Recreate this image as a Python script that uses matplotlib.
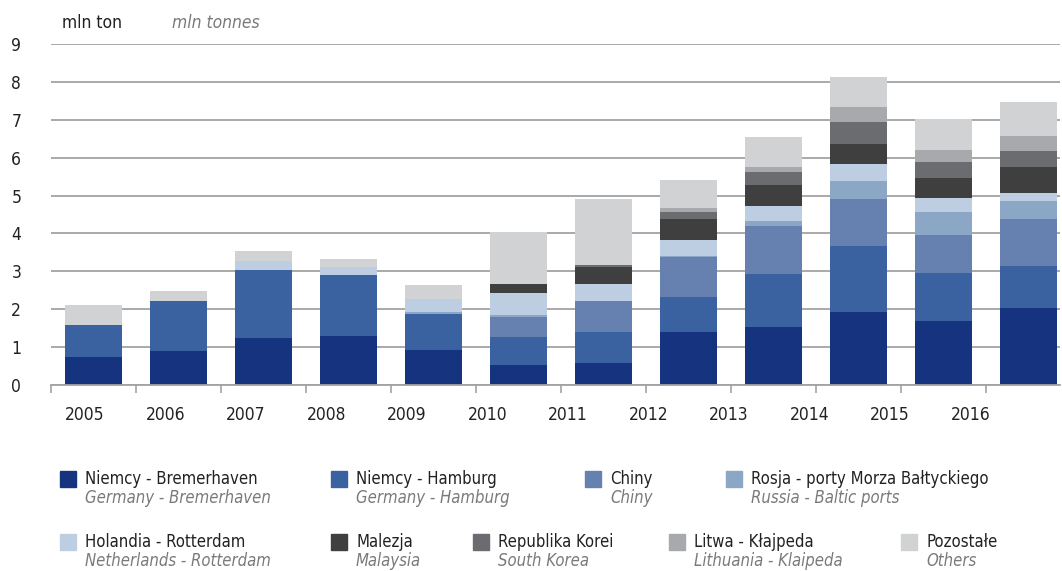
import numpy as np
import matplotlib
matplotlib.use("Agg")
import matplotlib.pyplot as plt
from matplotlib import font_manager as fm
from matplotlib.patches import Rectangle

# the original uses a condensed face; take a condensed one if installed
_narrow = [f for f in fm.fontManager.ttflist
           if ("Narrow" in f.name or "Condensed" in f.name or f.stretch in ("condensed", "semi-condensed"))
           and "Oblique" not in f.fname]
if _narrow:
    plt.rcParams["font.family"] = [_narrow[0].name, "DejaVu Sans"]
    plt.rcParams["font.stretch"] = _narrow[0].stretch
    FS, LFS = 12.5, 12
else:
    plt.rcParams["font.family"] = ["Roboto", "DejaVu Sans"]
    FS, LFS = 11.5, 11

years = ["2005", "2006", "2007", "2008", "2009", "2010",
         "2011", "2012", "2013", "2014", "2015", "2016"]

bremerhaven = [0.73, 0.89, 1.23, 1.29, 0.92, 0.53, 0.58, 1.40, 1.53, 1.92, 1.68, 2.03]
hamburg     = [0.85, 1.32, 1.80, 1.61, 0.95, 0.74, 0.82, 0.92, 1.40, 1.75, 1.27, 1.11]
chiny       = [0.00, 0.00, 0.00, 0.00, 0.00, 0.52, 0.81, 1.05, 1.26, 1.24, 1.01, 1.24]
rosja       = [0.00, 0.00, 0.00, 0.00, 0.05, 0.05, 0.00, 0.03, 0.13, 0.48, 0.61, 0.48]
rotterdam   = [0.00, 0.00, 0.24, 0.21, 0.34, 0.59, 0.45, 0.42, 0.40, 0.45, 0.37, 0.21]
malezja     = [0.00, 0.00, 0.00, 0.00, 0.00, 0.23, 0.45, 0.56, 0.55, 0.53, 0.53, 0.69]
korea       = [0.00, 0.00, 0.00, 0.00, 0.00, 0.00, 0.05, 0.18, 0.35, 0.58, 0.42, 0.42]
litwa       = [0.00, 0.00, 0.00, 0.00, 0.00, 0.00, 0.00, 0.11, 0.13, 0.40, 0.32, 0.40]
pozostale   = [0.53, 0.27, 0.26, 0.21, 0.38, 1.37, 1.74, 0.73, 0.79, 0.79, 0.82, 0.90]

labels_pl = ["Niemcy - Bremerhaven", "Niemcy - Hamburg", "Chiny",
             "Rosja - porty Morza Bałtyckiego", "Holandia - Rotterdam", "Malezja",
             "Republika Korei", "Litwa - Kłajpeda", "Pozostałe"]
labels_en = ["Germany - Bremerhaven", "Germany - Hamburg", "Chiny",
             "Russia - Baltic ports", "Netherlands - Rotterdam", "Malaysia",
             "South Korea", "Lithuania - Klaipeda", "Others"]
colors = ["#16337f", "#3a62a0", "#6681b0", "#8ca6c6", "#bdcee3",
          "#3f3f3f", "#6b6c70", "#a8a9ac", "#d1d2d4"]

series = [bremerhaven, hamburg, chiny, rosja, rotterdam,
          malezja, korea, litwa, pozostale]

W, H = 1062, 571
fig = plt.figure(figsize=(W / 100, H / 100), dpi=100)
ax = fig.add_axes([51 / W, 1 - 385 / H, (1060 - 51) / W, (385 - 44) / H])

x = np.arange(len(years))
bottom = np.zeros(len(years))
for vals, col in zip(series, colors):
    ax.bar(x, vals, 0.67, bottom=bottom, color=col, zorder=2)
    bottom += np.array(vals)

ax.set_xlim(-0.5, 11.37)
ax.set_ylim(0, 9)
ax.set_yticks(range(10))
ax.yaxis.grid(True, color="#a3a3a3", linewidth=1.3, zorder=0)
ax.set_axisbelow(True)
ax.tick_params(axis="y", length=0, pad=25, labelsize=FS, labelcolor="#222222")
for t in ax.get_yticklabels():
    t.set_horizontalalignment("center")

# year labels drift slightly left of the bars in the original
ax.set_xticks(np.arange(len(years)) * 0.947 - 0.1)
ax.set_xticklabels(years)
ax.set_xticks(np.arange(len(years)) - 0.5, minor=True)
ax.tick_params(axis="x", which="major", length=0, pad=15, labelsize=FS, labelcolor="#222222")
ax.tick_params(axis="x", which="minor", length=6, width=1.2, color="#a3a3a3", direction="out")

for s in ["top", "right", "left"]:
    ax.spines[s].set_visible(False)
ax.spines["bottom"].set_color("#a3a3a3")
ax.spines["bottom"].set_linewidth(1.3)

fig.text(62 / W, 1 - 23 / H, "mln ton", fontsize=FS, color="#222222", va="center")
fig.text(172 / W, 1 - 23 / H, "mln tonnes", fontsize=FS, color="#7a7a7a",
         style="italic", va="center")

# legend, laid out by hand in two rows
sq = 16
row1 = [(60, 0), (331, 1), (585, 2), (726, 3)]
row2 = [(60, 4), (331, 5), (473, 6), (669, 7), (901, 8)]
for row, ytop in [(row1, 471), (row2, 534)]:
    for px, i in row:
        fig.patches.append(Rectangle((px / W, 1 - (ytop + sq) / H), sq / W, sq / H,
                                     transform=fig.transFigure, color=colors[i]))
        fig.text((px + 25) / W, 1 - (ytop + 8) / H, labels_pl[i], fontsize=LFS,
                 color="#222222", va="center")
        fig.text((px + 25) / W, 1 - (ytop + 27) / H, labels_en[i], fontsize=LFS,
                 color="#7a7a7a", style="italic", va="center")

fig.savefig("out.png", dpi=100)
